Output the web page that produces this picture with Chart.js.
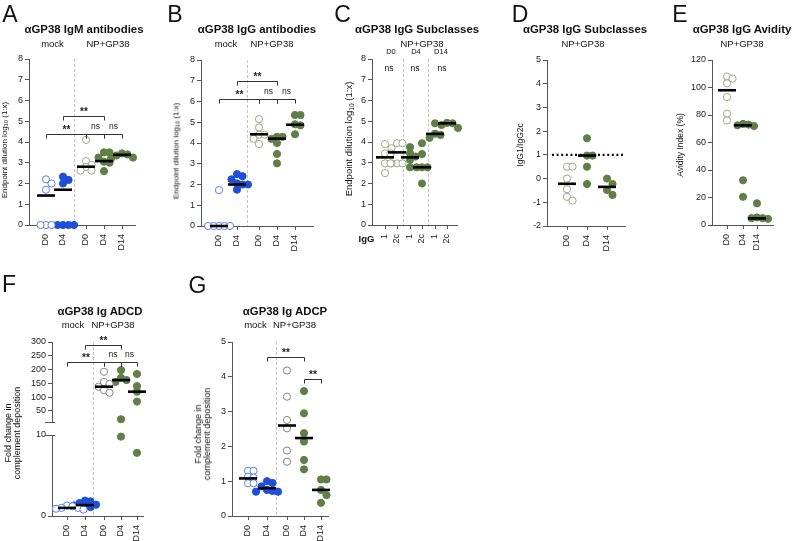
<!DOCTYPE html>
<html>
<head>
<meta charset="utf-8">
<script src="https://cdn.jsdelivr.net/npm/chart.js@4.4.1/dist/chart.umd.min.js"></script>
<style>
  body { margin: 0; background: #fff; }
  #fig { position: relative; width: 792px; height: 541px; overflow: hidden;
         font-family: "Liberation Sans", Arial, sans-serif; color: #111; }
  #fig canvas { position: absolute; left: 0; top: 0; }
  .t { position: absolute; transform: translate(-50%, -50%); white-space: nowrap; line-height: 1; }
  .letter { font-size: 23px; }
  .title { font-weight: bold; font-size: 11.4px; }
  .sub { font-size: 9.5px; }
  .small { font-size: 7.5px; }
  .ns { font-size: 8.5px; }
  .ylab { transform: translate(-50%, -50%) rotate(-90deg); font-size: 8px; text-align: center; }
  .ylab sub { font-size: 0.7em; vertical-align: -0.25em; }
  .two { line-height: 9px; font-size: 9px; }
</style>
</head>
<body>
<div id="fig">
  <canvas id="cA" width="792" height="541"></canvas>
  <canvas id="cB" width="792" height="541"></canvas>
  <canvas id="cC" width="792" height="541"></canvas>
  <canvas id="cD" width="792" height="541"></canvas>
  <canvas id="cE" width="792" height="541"></canvas>
  <canvas id="cF" width="792" height="541"></canvas>
  <canvas id="cG" width="792" height="541"></canvas>

  <!-- panel letters -->
  <div class="t letter" style="left:10px;top:13.5px">A</div>
  <div class="t letter" style="left:175px;top:13.5px">B</div>
  <div class="t letter" style="left:342.5px;top:13.5px">C</div>
  <div class="t letter" style="left:520px;top:13.5px">D</div>
  <div class="t letter" style="left:680px;top:13.5px">E</div>
  <div class="t letter" style="left:9px;top:283.5px">F</div>
  <div class="t letter" style="left:197.5px;top:285px">G</div>

  <!-- titles -->
  <div class="t title" style="left:84px;top:30px">αGP38 IgM antibodies</div>
  <div class="t title" style="left:257px;top:30px">αGP38 IgG antibodies</div>
  <div class="t title" style="left:417px;top:30px">αGP38 IgG Subclasses</div>
  <div class="t title" style="left:585px;top:30px">αGP38 IgG Subclasses</div>
  <div class="t title" style="left:742px;top:30px">αGP38 IgG Avidity</div>
  <div class="t title" style="left:100px;top:312px">αGP38 Ig ADCD</div>
  <div class="t title" style="left:285px;top:312px">αGP38 Ig ADCP</div>

  <!-- group headers -->
  <div class="t sub" style="left:52.5px;top:43.5px">mock</div>
  <div class="t sub" style="left:108px;top:43.5px">NP+GP38</div>
  <div class="t sub" style="left:226px;top:43.5px">mock</div>
  <div class="t sub" style="left:272px;top:43.5px">NP+GP38</div>
  <div class="t sub" style="left:422px;top:43.5px">NP+GP38</div>
  <div class="t sub" style="left:583px;top:43.5px">NP+GP38</div>
  <div class="t sub" style="left:742px;top:43.5px">NP+GP38</div>
  <div class="t sub" style="left:73px;top:325px">mock</div>
  <div class="t sub" style="left:113px;top:325px">NP+GP38</div>
  <div class="t sub" style="left:255.5px;top:325px">mock</div>
  <div class="t sub" style="left:294.5px;top:325px">NP+GP38</div>

  <!-- panel C day headers and ns -->
  <div class="t small" style="left:391px;top:51.5px">D0</div>
  <div class="t small" style="left:416px;top:51.5px">D4</div>
  <div class="t small" style="left:441px;top:51.5px">D14</div>
  <div class="t ns" style="left:389px;top:68px">ns</div>
  <div class="t ns" style="left:415px;top:68px">ns</div>
  <div class="t ns" style="left:442px;top:68px">ns</div>
  <div class="t" style="left:366.5px;top:238.5px;font-weight:bold;font-size:9.5px">IgG</div>

  <!-- y axis titles -->
  <div class="t ylab" style="left:5px;top:150px">Endpoint dilution log<sub>10</sub> (1:x)</div>
  <div class="t ylab" style="left:177px;top:151px">Endpoint dilution log<sub>10</sub> (1:x)</div>
  <div class="t ylab" style="left:350px;top:139px;font-size:9.5px">Endpoint dilution log<sub>10</sub> (1:x)</div>
  <div class="t ylab" style="left:520px;top:145px;font-size:8.5px">IgG1/IgG2c</div>
  <div class="t ylab" style="left:680px;top:144.5px;font-size:8.5px">Avidity Index (%)</div>
  <div class="t ylab two" style="left:12.5px;top:433px">Fold change in<br>complement deposition</div>
  <div class="t ylab two" style="left:202.5px;top:434px">Fold change in<br>complement deposition</div>
</div>

<script>
/* ── Data ───────────────────────────────────────────────────── */

const DAY_LABELS = ["D0", "D4", "D0", "D4", "D14"];
const NP_LABELS = ["D0", "D4", "D14"];
const SUBCLASS_LABELS = ["1", "2c", "1", "2c", "1", "2c"];

// A – IgM endpoint titres, log10
const A_MOCK_D0 = [2.2, 2.0, 1.7, 0, 0, 0];
const A_MOCK_D4 = [2.33, 2.17, 2.0, 0, 0, 0, 0];
const A_NP_D0 = [4.1, 3.08, 2.9, 2.8, 2.62, 2.62];
const A_NP_D4 = [3.5, 3.5, 3.25, 3.05, 3.0, 2.6];
const A_NP_D14 = [3.45, 3.4, 3.35, 3.25, 3.2];
const A_MEDIANS = [1.42, 1.7, 2.81, 3.08, 3.38];

// B – IgG endpoint titres, log10
const B_MOCK_D0 = [1.73, 0, 0, 0, 0, 0];
const B_MOCK_D4 = [2.5, 2.4, 2.25, 2.05, 2.0, 2.0, 1.75];
const B_NP_D0 = [5.15, 4.75, 4.4, 4.4, 4.2, 3.95];
const B_NP_D4 = [4.3, 4.3, 4.2, 4.0, 3.47, 3.02];
const B_NP_D14 = [5.35, 5.35, 4.9, 4.85, 4.42];
const B_MEDIANS = [0, 2.0, 4.42, 4.21, 4.88];

// C – IgG1 / IgG2c titres per day, log10
const C_D0_IGG1 = [3.9, 3.45, 3.45, 2.97, 2.97, 2.5];
const C_D0_IGG2C = [3.94, 3.94, 3.7, 2.97, 2.97, 2.97];
const C_D4_IGG1 = [3.75, 3.46, 3.3, 3.14, 2.78];
const C_D4_IGG2C = [3.94, 3.42, 2.78, 2.78, 2.78, 2.0];
const C_D14_IGG1 = [4.9, 4.4, 4.34, 4.2];
const C_D14_IGG2C = [4.92, 4.9, 4.82, 4.68];
const C_MEDIANS = [3.26, 3.5, 3.26, 2.78, 4.39, 4.9];

// D – IgG1/IgG2c ratio
const D_D0 = [0.5, 0.5, 0.0, -0.45, -0.77, -0.93];
const D_D4 = [1.7, 0.97, 0.97, 0.5, -0.23];
const D_D14 = [0.0, -0.23, -0.48, -0.69];
const D_MEDIANS = [-0.22, 0.97, -0.35];

// E – avidity index, %
const E_D0 = [108, 106.5, 103, 93, 81, 76];
const E_D4 = [73.5, 73, 72.5, 72, 32.5, 20.5];
const E_D14 = [15.8, 5.5, 5, 5, 4.5];
const E_MEDIANS = [98, 72.5, 4.8];

// F – ADCD fold change (broken axis)
const F_MOCK_D0 = [1.3, 1.2, 1.0, 1.0, 0.9, 0.8];
const F_MOCK_D4 = [1.9, 1.8, 1.6, 1.4, 1.3, 1.2, 1.1];
const F_NP_D0 = [192, 155, 148, 138, 125, 116];
const F_NP_D4 = [198, 170, 162, 155, 20, 9.8];
const F_NP_D14 = [184, 140, 120, 84, 7.8];
const F_MEDIANS = [1.0, 1.35, 138, 162, 120];
const F_UPPER_TICKS = [50, 100, 150, 200, 250, 300];
const F_LOWER_TICKS = [0, 10];

// G – ADCP fold change
const G_MOCK_D0 = [1.3, 1.3, 1.13, 1.1, 0.94, 0.94];
const G_MOCK_D4 = [1.0, 0.95, 0.85, 0.75, 0.72, 0.7, 0.7];
const G_NP_D0 = [4.18, 3.43, 2.76, 2.52, 1.88, 1.56];
const G_NP_D4 = [3.59, 2.95, 2.38, 2.14, 1.61, 1.34];
const G_NP_D14 = [1.05, 1.05, 0.75, 0.6, 0.38];
const G_MEDIANS = [1.08, 0.8, 2.6, 2.24, 0.75];

/* ── Look ───────────────────────────────────────────────────── */

const AXIS = "#555";
const YW = 28, XH = 30;
const MARK = {
  openBlue:  { fill: "#ffffff", line: "#5b80e8" },
  blue:      { fill: "#1e4fd6", line: "#1e4fd6" },
  openGreen: { fill: "#ffffff", line: "#98ab84" },
  green:     { fill: "#5f7f47", line: "#5f7f47" },
  openGray:  { fill: "#ffffff", line: "#858585" },
};

Chart.defaults.font.family = '"Liberation Sans", Arial, sans-serif';
Chart.defaults.font.size = 9;
Chart.defaults.color = "#222";
Chart.defaults.animation = false;
Chart.defaults.events = [];
Chart.defaults.plugins.legend.display = false;
Chart.defaults.plugins.tooltip.enabled = false;

function yAxis(min, max, step, extra) {
  return Object.assign({
    type: "linear", position: "left", min, max,
    border: { color: AXIS },
    grid: { display: true, drawOnChartArea: false, tickLength: 4, color: AXIS },
    ticks: { stepSize: step, padding: 2, autoSkip: false },
    afterFit: s => { s.width = YW; },
  }, extra || {});
}

/* ── Panels ─────────────────────────────────────────────────── */

const PANELS = [
  {
    canvas: "cA", box: { l: 29, r: 135, t: 59, b: 225 },
    groupX: [17, 34, 57, 75, 93], xLabels: DAY_LABELS,
    scales: { y: yAxis(0, 8, 1) },
    groups: [[A_MOCK_D0, "openBlue"], [A_MOCK_D4, "blue"], [A_NP_D0, "openGreen"], [A_NP_D4, "green"], [A_NP_D14, "green"]],
    medians: A_MEDIANS,
    brackets: [[0, 2, 4.4, "**"], [1, 3, 5.25, "**"], [2, 3, 4.4, "ns"], [3, 4, 4.4, "ns"]],
    vlines: [45],
  },
  {
    canvas: "cB", box: { l: 201, r: 313, t: 60, b: 226 },
    groupX: [18, 36, 58, 76, 94], xLabels: DAY_LABELS,
    scales: { y: yAxis(0, 8, 1) },
    groups: [[B_MOCK_D0, "openBlue"], [B_MOCK_D4, "blue"], [B_NP_D0, "openGreen"], [B_NP_D4, "green"], [B_NP_D14, "green"]],
    medians: B_MEDIANS,
    brackets: [[0, 2, 6.1, "**"], [1, 3, 7.0, "**"], [2, 3, 6.1, "ns"], [3, 4, 6.1, "ns"]],
    vlines: [46],
  },
  {
    canvas: "cC", box: { l: 372, r: 457, t: 59, b: 225 },
    groupX: [13, 25, 38, 50, 63, 75], xLabels: SUBCLASS_LABELS,
    scales: { y: yAxis(0, 8, 1) },
    groups: [[C_D0_IGG1, "openGreen"], [C_D0_IGG2C, "openGreen"], [C_D4_IGG1, "green"], [C_D4_IGG2C, "green"], [C_D14_IGG1, "green"], [C_D14_IGG2C, "green"]],
    medians: C_MEDIANS,
    brackets: [],
    vlines: [31, 56],
  },
  {
    canvas: "cD", box: { l: 547, r: 625, t: 60, b: 226 },
    groupX: [20, 40, 60], xLabels: NP_LABELS,
    scales: { y: yAxis(-2, 5, 1) },
    groups: [[D_D0, "openGreen"], [D_D4, "green"], [D_D14, "green"]],
    medians: D_MEDIANS,
    brackets: [],
    vlines: [],
    refLine: { y: 1, from: 5, to: 77 },
  },
  {
    canvas: "cE", box: { l: 712, r: 773, t: 60, b: 225 },
    groupX: [15, 31, 45], xLabels: NP_LABELS,
    scales: { y: yAxis(0, 120, 20) },
    groups: [[E_D0, "openGreen"], [E_D4, "green"], [E_D14, "green"]],
    medians: E_MEDIANS,
    brackets: [],
    vlines: [],
  },
  {
    canvas: "cF", box: { l: 52, r: 143, t: 342, b: 516 },
    groupX: [15, 33, 52, 69, 85], xLabels: DAY_LABELS,
    axisFor: v => (v > 10 ? "yU" : "yL"),
    // stacked left axes: the last one listed ends up on top
    scales: {
      yL: yAxis(0, 10, 10, { stack: "f", stackWeight: 81,
        afterBuildTicks: s => { s.ticks = F_LOWER_TICKS.map(v => ({ value: v })); } }),
      yGap: { type: "linear", position: "left", stack: "f", stackWeight: 13, min: 0, max: 1,
        ticks: { display: false }, grid: { display: false }, border: { display: false },
        afterFit: s => { s.width = YW; } },
      yU: yAxis(10, 300, 50, { stack: "f", stackWeight: 80,
        afterBuildTicks: s => { s.ticks = F_UPPER_TICKS.map(v => ({ value: v })); } }),
    },
    groups: [[F_MOCK_D0, "openBlue"], [F_MOCK_D4, "blue"], [F_NP_D0, "openGray"], [F_NP_D4, "green"], [F_NP_D14, "green"]],
    medians: F_MEDIANS,
    brackets: [[0, 2, 229, "**", "yU"], [1, 3, 290, "**", "yU"], [2, 3, 229, "ns", "yU"], [3, 4, 229, "ns", "yU"]],
    vlines: [41],
    axisBreak: true,
  },
  {
    canvas: "cG", box: { l: 232, r: 328, t: 342, b: 516 },
    groupX: [16, 35, 55, 72, 89], xLabels: DAY_LABELS,
    scales: { y: yAxis(0, 5, 1) },
    groups: [[G_MOCK_D0, "openBlue"], [G_MOCK_D4, "blue"], [G_NP_D0, "openGray"], [G_NP_D4, "green"], [G_NP_D14, "green"]],
    medians: G_MEDIANS,
    brackets: [[1, 3, 4.57, "**"], [3, 4, 3.93, "**"]],
    vlines: [44],
  },
];

/* ── Helpers ────────────────────────────────────────────────── */

function pushByAxis(map, axis, point) {
  (map[axis] = map[axis] || []).push(point);
}

function drawBracket(ctx, chart, p, br) {
  const [g1, g2, yv, label, ax] = br;
  const xs = chart.scales.x, ys = chart.scales[ax || "y"];
  const x1 = Math.round(xs.getPixelForValue(p.groupX[g1])) + 0.5;
  const x2 = Math.round(xs.getPixelForValue(p.groupX[g2])) + 0.5;
  const y = Math.round(ys.getPixelForValue(yv)) + 0.5;
  ctx.save();
  ctx.strokeStyle = "#333";
  ctx.lineWidth = 1;
  ctx.beginPath();
  ctx.moveTo(x1, y + 4); ctx.lineTo(x1, y); ctx.lineTo(x2, y); ctx.lineTo(x2, y + 4);
  ctx.stroke();
  ctx.fillStyle = "#222";
  ctx.textAlign = "center";
  ctx.textBaseline = "alphabetic";
  if (label === "**") {
    ctx.font = 'bold 10px "Liberation Sans", Arial, sans-serif';
    ctx.fillText(label, (x1 + x2) / 2, y - 1.5);
  } else {
    ctx.font = '8.5px "Liberation Sans", Arial, sans-serif';
    ctx.fillText(label, (x1 + x2) / 2, y - 6);
  }
  ctx.restore();
}

// spread tied points sideways so they don't sit on top of each other
function swarm(chart, step) {
  const xs = chart.scales.x;
  chart.data.datasets.forEach(ds => {
    if (!ds.swarm) return;
    const ys = chart.scales[ds.yAxisID];
    const placed = [];
    const pts = ds.data.map(d => ({ x: d.x, y: d.y, cx: xs.getPixelForValue(d.x), py: ys.getPixelForValue(d.y) }));
    pts.sort((a, b) => a.py - b.py);
    const out = pts.map(pt => {
      for (let k = 0; k < 40; k++) {
        const off = (k % 2 ? 1 : -1) * Math.ceil(k / 2) * step;
        const px = pt.cx + off;
        if (placed.every(q => Math.hypot(q.px - px, q.py - pt.py) >= step)) {
          placed.push({ px, py: pt.py });
          return { x: xs.getValueForPixel(px), y: pt.y };
        }
      }
      return { x: pt.x, y: pt.y };
    });
    ds.data = out;
  });
  chart.update("none");
}

/* ── Build ──────────────────────────────────────────────────── */

function build(p) {
  const axisFor = p.axisFor || (() => "y");
  const datasets = [];

  const med = {};
  p.medians.forEach((m, i) => pushByAxis(med, axisFor(m), { x: p.groupX[i], y: m }));
  Object.entries(med).forEach(([ax, data]) => datasets.push({
    data, yAxisID: ax, order: 0, clip: false,
    pointStyle: "line", pointRadius: 9, pointBorderWidth: 2.6,
    pointBorderColor: "#000", pointBackgroundColor: "#000",
  }));

  p.groups.forEach(([vals, style], i) => {
    const byAxis = {};
    vals.forEach(v => pushByAxis(byAxis, axisFor(v), { x: p.groupX[i], y: v }));
    Object.entries(byAxis).forEach(([ax, data]) => datasets.push({
      data, yAxisID: ax, order: 1, clip: false, swarm: true,
      pointRadius: 3.6, pointBorderWidth: 1,
      pointBackgroundColor: MARK[style].fill, pointBorderColor: MARK[style].line,
    }));
  });

  const deco = {
    id: "deco",
    beforeDatasetsDraw(chart) {
      const { ctx, chartArea } = chart;
      const xs = chart.scales.x;
      ctx.save();
      ctx.strokeStyle = "#c4c4c4";
      ctx.lineWidth = 1;
      ctx.setLineDash([3, 2]);
      p.vlines.forEach(v => {
        const x = Math.round(xs.getPixelForValue(v)) + 0.5;
        ctx.beginPath(); ctx.moveTo(x, chartArea.top); ctx.lineTo(x, chartArea.bottom); ctx.stroke();
      });
      if (p.refLine) {
        const y = chart.scales.y.getPixelForValue(p.refLine.y);
        ctx.strokeStyle = "#111";
        ctx.lineWidth = 2.2;
        ctx.setLineDash([2, 2.6]);
        ctx.beginPath();
        ctx.moveTo(xs.getPixelForValue(p.refLine.from), y);
        ctx.lineTo(xs.getPixelForValue(p.refLine.to), y);
        ctx.stroke();
      }
      ctx.restore();
      if (p.axisBreak) {
        const x = chartArea.left;
        ctx.save();
        ctx.strokeStyle = AXIS;
        ctx.lineWidth = 1;
        [chart.scales.yU.bottom, chart.scales.yL.top].forEach(yy => {
          const y = Math.round(yy) + 0.5;
          ctx.beginPath(); ctx.moveTo(x - 7, y); ctx.lineTo(x + 3, y); ctx.stroke();
        });
        ctx.restore();
      }
    },
    afterDatasetsDraw(chart) {
      p.brackets.forEach(br => drawBracket(chart.ctx, chart, p, br));
    },
  };

  const chart = new Chart(document.getElementById(p.canvas), {
    type: "scatter",
    data: { datasets },
    options: {
      responsive: false,
      maintainAspectRatio: false,
      devicePixelRatio: 1,
      layout: { padding: { left: p.box.l - YW, top: p.box.t, right: 792 - p.box.r, bottom: 541 - p.box.b - XH } },
      scales: Object.assign({
        x: {
          type: "linear", min: 0, max: p.box.r - p.box.l,
          border: { color: AXIS },
          grid: { display: true, drawOnChartArea: false, tickLength: 4, color: AXIS },
          afterBuildTicks: s => { s.ticks = p.groupX.map(v => ({ value: v })); },
          ticks: { autoSkip: false, minRotation: 90, maxRotation: 90, padding: 5,
                   callback: (v, i) => p.xLabels[i] },
          afterFit: s => { s.height = XH; },
        },
      }, p.scales),
    },
    plugins: [deco],
  });
  swarm(chart, 5.5);
  return chart;
}

PANELS.forEach(build);
</script>
</body>
</html>
